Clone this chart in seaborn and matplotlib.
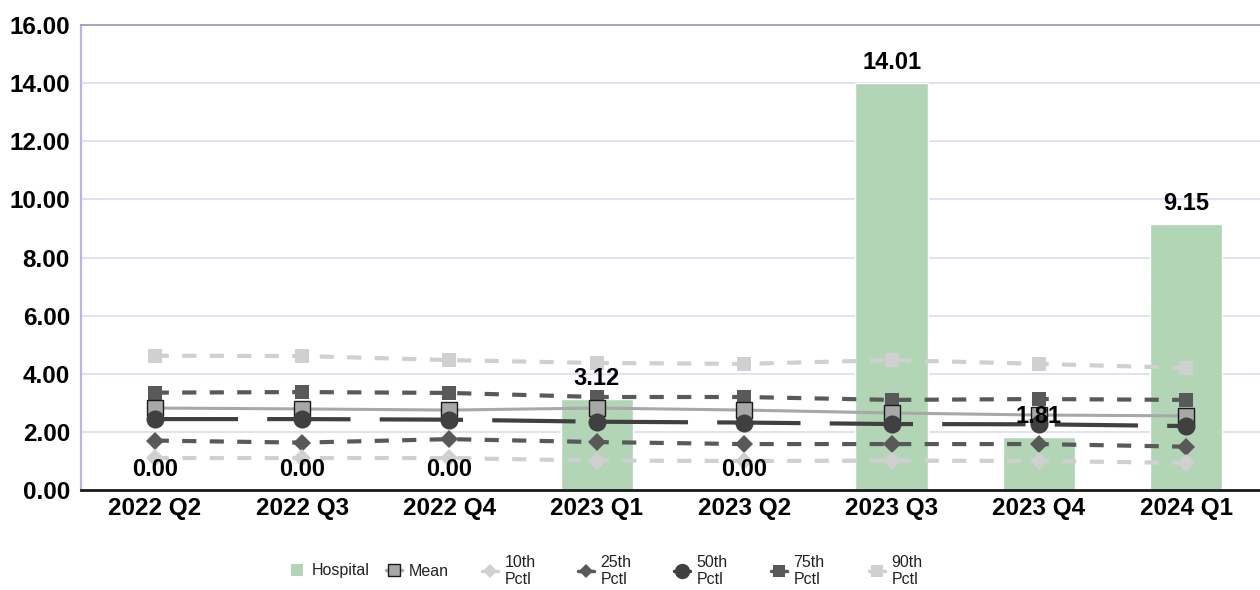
import numpy as np
import pandas as pd
import matplotlib
matplotlib.use("Agg")
import matplotlib.pyplot as plt
from matplotlib.lines import Line2D
import seaborn as sns

quarters = ["2022 Q2", "2022 Q3", "2022 Q4", "2023 Q1", "2023 Q2", "2023 Q3", "2023 Q4", "2024 Q1"]
hospital = [0.00, 0.00, 0.00, 3.12, 0.00, 14.01, 1.81, 9.15]
mean_vals = [2.82, 2.79, 2.75, 2.82, 2.75, 2.65, 2.58, 2.55]
p10 = [1.10, 1.10, 1.10, 1.01, 1.00, 1.01, 1.00, 0.93]
p25 = [1.70, 1.63, 1.75, 1.65, 1.58, 1.58, 1.58, 1.49]
p50 = [2.44, 2.44, 2.42, 2.35, 2.32, 2.27, 2.26, 2.20]
p75 = [3.35, 3.37, 3.34, 3.20, 3.20, 3.10, 3.13, 3.10]
p90 = [4.62, 4.61, 4.47, 4.37, 4.34, 4.47, 4.34, 4.20]

BAR_GREEN = "#b1d5b5"

sns.set_theme(style="white")
plt.rcParams["font.family"] = ["Liberation Sans", "DejaVu Sans"]

fig = plt.figure(figsize=(12.6, 5.9), dpi=100)
ax = fig.add_axes([0.0643, 0.1695, 0.9357, 0.7881])

pos = np.arange(len(quarters))
df = pd.DataFrame({"quarter": quarters, "hospital": hospital})

sns.barplot(data=df, x="quarter", y="hospital", color=BAR_GREEN, saturation=1,
            width=0.49, ax=ax, zorder=2)

lw = 3.0
short_dash = (0, (3.4, 3.2))
series = [
    # values, colour, line style, marker, marker size, marker edge, legend name, legend marker size
    (p90, "#d0d0d0", short_dash, "s", 10.5, None, "90th\nPctl", 8.5),
    (p75, "#595959", short_dash, "s", 10.5, None, "75th\nPctl", 8.5),
    (mean_vals, "#a8a8a8", "-", "s", 11.5, "#1a1a1a", "Mean", 9),
    (p50, "#404040", (0, (20, 7)), "o", 13, None, "50th\nPctl", 11),
    (p25, "#595959", short_dash, "D", 9, None, "25th\nPctl", 7.5),
    (p10, "#d0d0d0", short_dash, "D", 9, None, "10th\nPctl", 7.5),
]
handles = {}
for vals, color, ls, mk, ms, edge, name, leg_ms in series:
    line_w = 2.2 if name == "Mean" else lw
    sns.lineplot(x=pos, y=vals, ax=ax, color=color, linestyle=ls, linewidth=line_w,
                 marker=mk, markersize=ms, markerfacecolor=color,
                 markeredgecolor=edge if edge else color,
                 markeredgewidth=1.0 if edge else 0, zorder=4)
    handles[name] = Line2D([], [], color=color, linestyle="-", linewidth=2.5,
                           marker=mk, markersize=leg_ms, markerfacecolor=color,
                           markeredgecolor=edge if edge else color,
                           markeredgewidth=1.0 if edge else 0)

# value labels above bars
for x, v in zip(pos, hospital):
    ax.annotate(f"{v:.2f}", xy=(x, v), xytext=(0, 9), textcoords="offset pixels",
                ha="center", va="bottom", fontsize=17, fontweight="bold",
                color="black", zorder=6)

ax.set_xlim(-0.5, len(quarters) - 0.5)
ax.set_ylim(0, 16)
yt = np.arange(0, 16.01, 2)
ax.set_yticks(yt)
ax.set_yticklabels([f"{t:.2f}" for t in yt])
ax.set_xticks(pos)
ax.set_xticklabels(quarters)
ax.set_xlabel("")
ax.set_ylabel("")
ax.tick_params(axis="both", length=0, labelsize=17.5)
ax.tick_params(axis="y", pad=8)
ax.tick_params(axis="x", pad=5)
for lab in ax.get_xticklabels() + ax.get_yticklabels():
    lab.set_fontweight("bold")
    lab.set_color("black")

ax.yaxis.grid(True, color="#dcdcf2", linewidth=1.2, zorder=0)
ax.set_axisbelow(True)
ax.spines["right"].set_visible(False)
ax.spines["top"].set_color("#9a9aae")
ax.spines["top"].set_linewidth(1.2)
ax.spines["left"].set_color("#b8b8dc")
ax.spines["left"].set_linewidth(1.6)
ax.spines["bottom"].set_color("#1a1a1a")
ax.spines["bottom"].set_linewidth(2)

# legend: one entry per evenly spaced slot along the bottom
hosp_handle = Line2D([], [], linestyle="none", marker="s", markersize=9,
                     markerfacecolor=BAR_GREEN, markeredgewidth=0)
entries = [
    (hosp_handle, "Hospital"),
    (handles["Mean"], "Mean"),
    (handles["10th\nPctl"], "10th\nPctl"),
    (handles["25th\nPctl"], "25th\nPctl"),
    (handles["50th\nPctl"], "50th\nPctl"),
    (handles["75th\nPctl"], "75th\nPctl"),
    (handles["90th\nPctl"], "90th\nPctl"),
]
slot_x = [289, 386, 482, 578, 674, 771, 869]
for (h, label), sx in zip(entries, slot_x):
    leg = fig.legend([h], [label], loc="center left",
                     bbox_to_anchor=(sx / 1260, 1 - 571 / 590),
                     frameon=False, fontsize=11.5, handlelength=1.0,
                     handletextpad=0.4, borderpad=0, borderaxespad=0)
    for t in leg.get_texts():
        t.set_color("#222222")
        t.set_linespacing(1.15)

fig.savefig("out.png", dpi=100)
